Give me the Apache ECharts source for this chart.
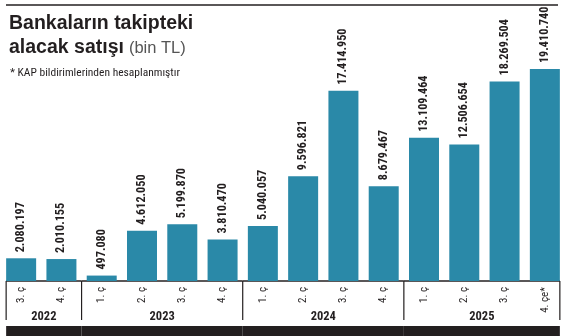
<!DOCTYPE html>
<html>
<head>
<meta charset="utf-8">
<script src="https://cdn.jsdelivr.net/npm/echarts@6/dist/echarts.min.js"></script>
<style>
html,body{margin:0;padding:0;background:#fff;}
#chart{width:567px;height:336px;}
</style>
</head>
<body>
<div id="chart"></div>
<script>
// ---- data ----
var quarters = ['3. ç','4. ç','1. ç','2. ç','3. ç','4. ç','1. ç','2. ç','3. ç','4. ç','1. ç','2. ç','3. ç','4. çe*'];
var values = [2080197, 2010155, 497080, 4612050, 5199870, 3810470, 5040057, 9596821, 17414950, 8679467, 13109464, 12506654, 18269504, 19410740];
var years = ['2022', '2023', '2024', '2025'];
var yearStart = [0, 2, 6, 10];
var yearEnd = [1, 5, 9, 13];

var titleLine1 = 'Bankaların takipteki';
var titleLine2 = 'alacak satışı';
var titleUnit = '(bin TL)';
var note = '* KAP bildirimlerinden hesaplanmıştır';

// ---- styles ----
var DARK = '#231f20';
var BAR = '#2a89a8';
var NARROW = "'Roboto Condensed', 'DejaVu Sans Condensed', sans-serif";
var TITLEF = "'Liberation Sans', Arial, sans-serif";
var BAR_W = 30;

function fmt(v) {
  return String(v).replace(/\B(?=(\d{3})+(?!\d))/g, '.');
}

var yearData = years.map(function (y, i) { return [yearStart[i], yearEnd[i], y]; });

var chart = echarts.init(document.getElementById('chart'), null, {renderer: 'canvas'});
chart.setOption({
  animation: false,
  backgroundColor: '#fff',
  title: [{
    left: 9, top: 12, padding: 0,
    text: '{b|' + titleLine1 + '}\n{b|' + titleLine2 + '} {r|' + titleUnit + '}',
    textStyle: {
      rich: {
        b: {fontFamily: TITLEF, fontSize: 19.5, fontWeight: 'bold', color: DARK, lineHeight: 24},
        r: {fontFamily: TITLEF, fontSize: 16.5, fontWeight: 'normal', color: '#555', lineHeight: 24}
      }
    }
  }, {
    left: 10, top: 67, padding: 0,
    text: note,
    textStyle: {fontFamily: NARROW, fontSize: 11.5, fontWeight: 'normal', color: DARK}
  }],
  graphic: [{
    type: 'line', shape: {x1: 6, y1: 5, x2: 558, y2: 5},
    style: {stroke: DARK, lineWidth: 1.5}
  }],
  grid: {left: 1, right: 2, top: 8, bottom: 55, containLabel: false},
  xAxis: {
    type: 'category',
    data: quarters,
    axisLine: {show: false},
    axisTick: {show: false},
    axisLabel: {
      rotate: 90, margin: 6, interval: 0,
      fontFamily: NARROW, fontSize: 11, color: DARK
    }
  },
  yAxis: {
    type: 'value', min: 0, max: 25000000,
    show: false
  },
  series: [{
    type: 'bar',
    data: values,
    barWidth: BAR_W,
    itemStyle: {color: BAR},
    label: {
      show: true,
      position: 'top',
      rotate: 90,
      align: 'left',
      verticalAlign: 'middle',
      distance: 6,
      formatter: function (p) { return fmt(p.value); },
      fontFamily: NARROW, fontSize: 12.2, fontWeight: 'bold', color: DARK
    }
  }, {
    type: 'custom',
    data: yearData,
    encode: {x: [0, 1]},
    clip: false,
    silent: true,
    renderItem: function (params, api) {
      var s = api.value(0), e = api.value(1);
      var bw = api.size([1, 0])[0];
      var p0 = api.coord([s, 0]);
      var p1 = api.coord([e, 0]);
      var y = p0[1];
      var left = (s === 0) ? p0[0] - BAR_W / 2 : p0[0] - bw / 2;
      var right = (e === quarters.length - 1) ? p1[0] + BAR_W / 2 : p1[0] + bw / 2;
      var children = [
        {type: 'line', shape: {x1: left, y1: y, x2: right, y2: y}, style: {stroke: DARK, lineWidth: 1.5}},
        {type: 'line', shape: {x1: left, y1: y, x2: left, y2: y + 39}, style: {stroke: DARK, lineWidth: 1.2}},
        {type: 'rect', shape: {x: left, y: y + 45, width: right - left, height: 11}, style: {fill: DARK}},
        {type: 'text', style: {
          text: api.value(2), x: (left + right) / 2, y: y + 35.5,
          align: 'center', verticalAlign: 'middle',
          fontFamily: NARROW, fontSize: 12.5, fontWeight: 'bold', fill: DARK
        }}
      ];
      if (e === quarters.length - 1) {
        children.push({type: 'line', shape: {x1: right, y1: y, x2: right, y2: y + 39}, style: {stroke: DARK, lineWidth: 1.2}});
      }
      return {type: 'group', children: children};
    }
  }]
});
</script>
</body>
</html>
